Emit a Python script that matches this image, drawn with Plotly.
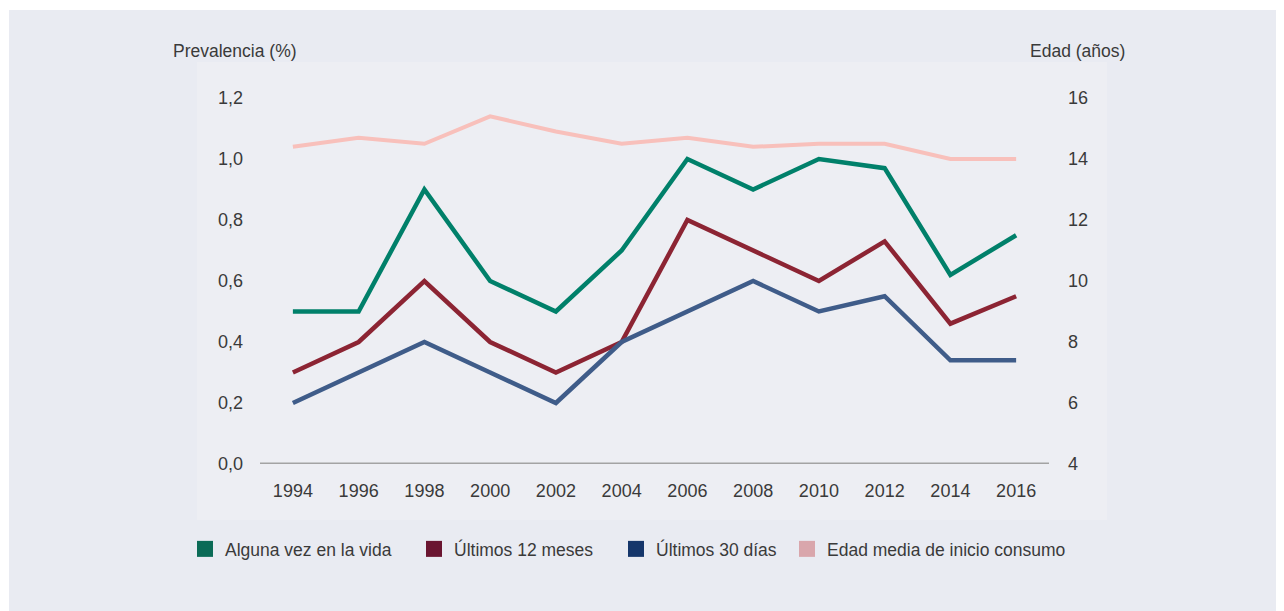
import plotly.graph_objects as go

years = [1994, 1996, 1998, 2000, 2002, 2004, 2006, 2008, 2010, 2012, 2014, 2016]
alguna_vez = [0.50, 0.50, 0.90, 0.60, 0.50, 0.70, 1.00, 0.90, 1.00, 0.97, 0.62, 0.75]
ultimos_12 = [0.30, 0.40, 0.60, 0.40, 0.30, 0.40, 0.80, 0.70, 0.60, 0.73, 0.46, 0.55]
ultimos_30 = [0.20, 0.30, 0.40, 0.30, 0.20, 0.40, 0.50, 0.60, 0.50, 0.55, 0.34, 0.34]
edad_media = [14.4, 14.7, 14.5, 15.4, 14.9, 14.5, 14.7, 14.4, 14.5, 14.5, 14.0, 14.0]

names = ["Alguna vez en la vida", "Últimos 12 meses", "Últimos 30 días",
         "Edad media de inicio consumo"]
line_colors = ["#00806a", "#8c2433", "#3f5c89", "#f8c0bb"]
legend_colors = ["#0b6b57", "#6a1531", "#15366b", "#d9a6ac"]

left_ticks = [0.0, 0.2, 0.4, 0.6, 0.8, 1.0, 1.2]
left_ticktext = ["0,0", "0,2", "0,4", "0,6", "0,8", "1,0", "1,2"]
right_ticks = [4, 6, 8, 10, 12, 14, 16]

# page body has an 8px margin; work in screen pixels and convert
OFF = 8
W, H = 1284 - OFF, 611 - OFF
L, R, T, B = 260 - OFF, 1049 - OFF, 98 - OFF, 464 - OFF

font_family = "Liberation Sans, Arial, sans-serif"
text_color = "#3a3a3a"

fig = go.Figure()

series = [alguna_vez, ultimos_12, ultimos_30]
for i, vals in enumerate(series):
    fig.add_trace(go.Scatter(x=years, y=vals, mode="lines",
                             line=dict(color=line_colors[i], width=4.5),
                             showlegend=False, hoverinfo="skip"))
fig.add_trace(go.Scatter(x=years, y=edad_media, mode="lines", yaxis="y2",
                         line=dict(color=line_colors[3], width=4),
                         showlegend=False, hoverinfo="skip"))

legend_x_px = [185, 414, 616, 787]
legend_keys = ["legend", "legend2", "legend3", "legend4"]
pw = R - L
ph = B - T
for i in range(4):
    fig.add_trace(go.Scatter(x=[None], y=[None], mode="markers", name=names[i],
                             marker=dict(symbol="square", size=19, color=legend_colors[i]),
                             legend=legend_keys[i], showlegend=True))


def px_to_paper_x(px):
    return (px - OFF - L) / pw


def px_to_paper_y(py):
    return (B - (py - OFF)) / ph


legend_common = dict(orientation="h", bgcolor="rgba(0,0,0,0)", borderwidth=0,
                     font=dict(family=font_family, size=17.5, color=text_color),
                     xanchor="left", yanchor="middle", itemclick=False,
                     itemdoubleclick=False)
layout_legends = {}
for i, key in enumerate(legend_keys):
    layout_legends[key] = dict(x=px_to_paper_x(legend_x_px[i]), y=px_to_paper_y(549),
                               **legend_common)

fig.update_layout(
    width=W, height=H,
    margin=dict(l=L, r=W - R, t=T, b=H - B, pad=0),
    paper_bgcolor="white",
    plot_bgcolor="rgba(0,0,0,0)",
    font=dict(family=font_family, size=17, color=text_color),
    xaxis=dict(range=[1993, 2017], tickmode="array", tickvals=years,
               ticktext=[str(y) for y in years], showgrid=False, zeroline=False,
               showline=False, ticks="", ticklabelstandoff=14,
               tickfont=dict(size=18, color=text_color), fixedrange=True),
    yaxis=dict(range=[0, 1.2], tickmode="array", tickvals=left_ticks,
               ticktext=left_ticktext, showgrid=False, zeroline=False,
               showline=False, ticks="", ticklabelstandoff=16,
               tickfont=dict(size=18, color=text_color), fixedrange=True),
    yaxis2=dict(range=[4, 16], overlaying="y", side="right", tickmode="array",
                tickvals=right_ticks, showgrid=False, zeroline=False,
                showline=False, ticks="", ticklabelstandoff=18,
                tickfont=dict(size=18, color=text_color), fixedrange=True),
    **layout_legends,
)

fig.add_shape(type="rect", xref="paper", yref="paper", layer="below",
              x0=px_to_paper_x(9), x1=px_to_paper_x(1300),
              y0=px_to_paper_y(630), y1=px_to_paper_y(10),
              fillcolor="#e9ebf2", line=dict(width=0))
fig.add_shape(type="rect", xref="paper", yref="paper", layer="below",
              x0=px_to_paper_x(197), x1=px_to_paper_x(1107),
              y0=px_to_paper_y(520), y1=px_to_paper_y(62),
              fillcolor="#edeef3", line=dict(width=0))
fig.add_shape(type="line", xref="paper", yref="y", layer="below",
              x0=0, x1=1, y0=0, y1=0,
              line=dict(color="#a3a3a3", width=3))

fig.add_annotation(text="Prevalencia (%)", xref="paper", yref="paper",
                   x=px_to_paper_x(171), y=px_to_paper_y(51), xanchor="left",
                   yanchor="middle", showarrow=False,
                   font=dict(family=font_family, size=17.5, color=text_color))
fig.add_annotation(text="Edad (años)", xref="paper", yref="paper",
                   x=px_to_paper_x(1127), y=px_to_paper_y(51), xanchor="right",
                   yanchor="middle", showarrow=False,
                   font=dict(family=font_family, size=17.5, color=text_color))

fig.write_html("out.html", config=dict(displayModeBar=False))
